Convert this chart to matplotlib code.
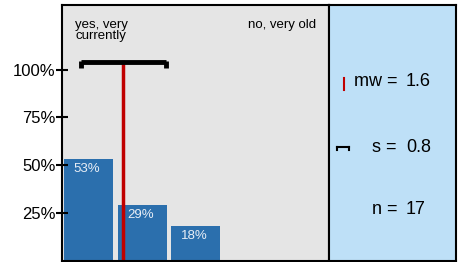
import matplotlib
matplotlib.use("Agg")
import matplotlib.pyplot as plt

plt.rcParams["font.family"] = ["Liberation Sans", "DejaVu Sans"]

# data
categories = ["yes, very\ncurrently", "", "", "", "no, very old"]
positions = [1, 2, 3, 4, 5]
shares = [53, 29, 18, 0, 0]
mean_value = 1.65
sd_value = 0.8
n_value = 17
ytick_values = [25, 50, 75, 100]
ytick_labels = ["25%", "50%", "75%", "100%"]
stat_labels = ["mw =", "s =", "n ="]
stat_values = ["1.6", "0.8", "17"]

COLOR_BAR = "#2b6fad"
COLOR_RED = "#c00000"
COLOR_BG = "#e5e5e5"
COLOR_SIDE = "#bee0f7"

fig = plt.figure(figsize=(4.64, 2.62), dpi=100)
ax = fig.add_axes([62 / 464, 1.5 / 262, 267 / 464, 255.5 / 262])
ax2 = fig.add_axes([329 / 464, 1.5 / 262, 127 / 464, 255.5 / 262])

# 1. bars
ax.set_facecolor(COLOR_BG)
for pos, val in zip(positions, shares):
    if val <= 0:
        continue
    ax.bar(pos, val, width=0.92, color=COLOR_BAR, zorder=1)
    ax.text(pos - 0.03, val - 1.8, "{0}%".format(val), color="#e8eef6",
            fontsize=9.5, ha="center", va="top", zorder=3)

# 2. mean line and sd bracket
y_br = 104
ax.plot([mean_value, mean_value], [0, y_br], color=COLOR_RED, lw=2.5, zorder=2)
ax.plot([mean_value - sd_value, mean_value + sd_value], [y_br, y_br],
        color="black", lw=3.5, solid_capstyle="butt", zorder=3)
for xe in [mean_value - sd_value, mean_value + sd_value]:
    ax.plot([xe, xe], [y_br + 0.5, y_br - 3], color="black", lw=3.5,
            solid_capstyle="butt", zorder=3)

# 3. category labels
ax.text(0.75, 126.5, categories[0], fontsize=9.5, ha="left", va="top",
        linespacing=0.8)
ax.text(5.25, 126.5, categories[4], fontsize=9.5, ha="right", va="top")

ax.set_xlim(0.5, 5.5)
ax.set_ylim(0, 134)
ax.set_xticks([])
ax.set_yticks(ytick_values)
ax.set_yticklabels(ytick_labels, fontsize=12)
ax.tick_params(axis="y", direction="inout", length=9, width=1.5, pad=0)
for sp in ax.spines.values():
    sp.set_linewidth(1.5)

# 4. side panel
ax2.set_facecolor(COLOR_SIDE)
ax2.set_xlim(0, 127)
ax2.set_ylim(0, 255.5)
ax2.set_xticks([])
ax2.set_yticks([])
for sp in ax2.spines.values():
    sp.set_linewidth(1.5)

stat_y = [178.5, 113.5, 50.5]
for lab, val, yy in zip(stat_labels, stat_values, stat_y):
    ax2.text(68, yy, lab, fontsize=13, ha="right", va="center")
    ax2.text(77, yy, val, fontsize=13, ha="left", va="center")

# red tick symbol
ax2.plot([15.5, 15.5], [170.5, 182.5], color=COLOR_RED, lw=1.5)
# bracket symbol
ax2.plot([8, 20], [113.5, 113.5], color="black", lw=1.5)
ax2.plot([8, 8], [113.5, 110.5], color="black", lw=1.5)
ax2.plot([20, 20], [113.5, 110.5], color="black", lw=1.5)

plt.savefig("out.png", dpi=100)
